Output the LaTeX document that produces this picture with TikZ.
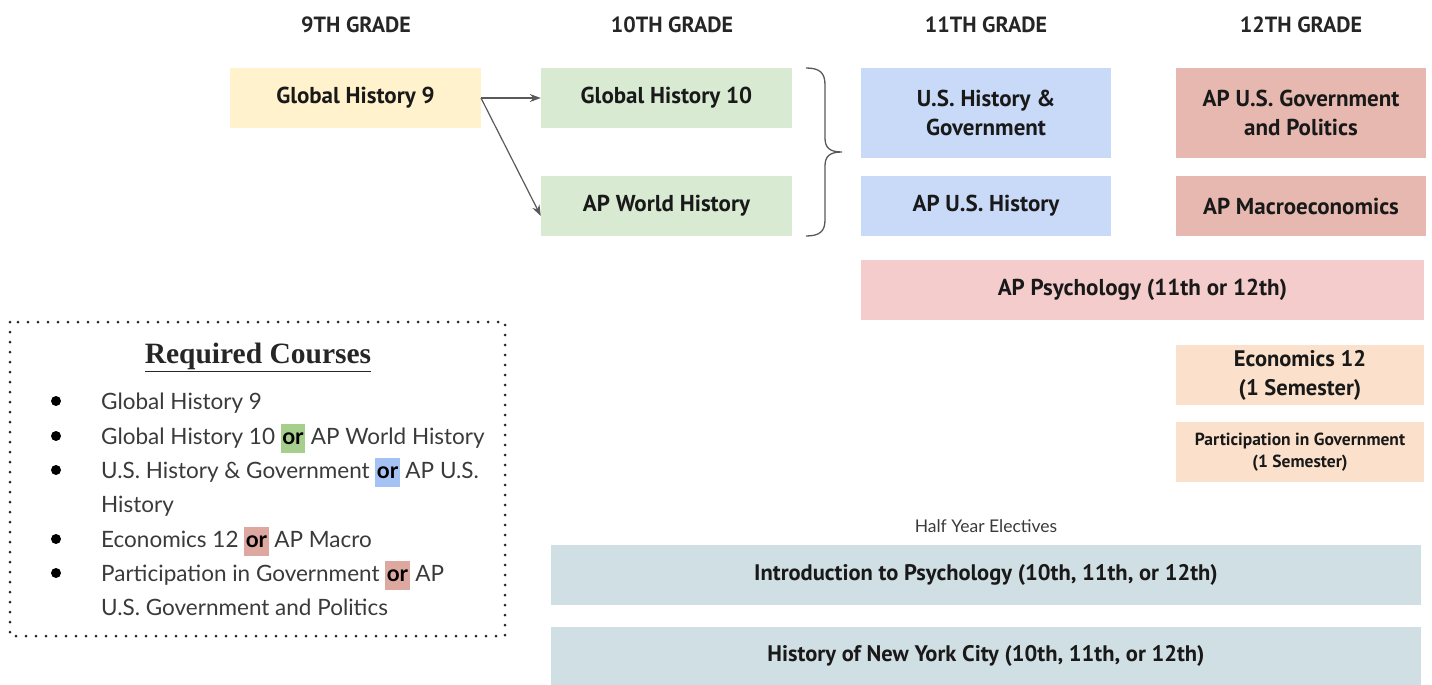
\documentclass[tikz,border=0pt]{standalone}
\usepackage{fontspec}
\setmainfont{PT Sans}
\newfontfamily\listfont{Lato}
\newfontfamily\headfont{Liberation Serif}
\usetikzlibrary{arrows.meta}
\definecolor{cyellow}{HTML}{FFF2CC}
\definecolor{cgreen}{HTML}{D9EAD3}
\definecolor{cblue}{HTML}{C9DAF8}
\definecolor{cred}{HTML}{E6B8AF}
\definecolor{cpink}{HTML}{F4CCCC}
\definecolor{cpeach}{HTML}{FBE1CB}
\definecolor{cgrey}{HTML}{D0DFE3}
\definecolor{hgreen}{HTML}{A6CF8E}
\definecolor{hblue}{HTML}{A4C2F4}
\definecolor{hred}{HTML}{DDA89F}
\definecolor{listtext}{HTML}{3A3A3A}
\definecolor{arrowgrey}{HTML}{595959}
\newcommand{\hl}[2]{{\setlength{\fboxsep}{1.5pt}\colorbox{#1}{\strut\color{black}#2}}}
\tikzset{
  course/.style={fill=#1, draw=none, inner sep=2pt, align=center, font=\fontsize{23}{29}\selectfont\bfseries, text=black!90},
  grade/.style={font=\fontsize{22}{26}\selectfont\bfseries, text=black!85},
  item/.style={anchor=base west, inner sep=0pt, font=\listfont\fontsize{22.5}{26}\selectfont, text=listtext},
  bul/.style={circle, fill=black, inner sep=0pt, minimum size=10pt},
  conn/.style={draw=arrowgrey, line width=1.2pt, -{Stealth[length=11pt,width=8pt]}},
}
\begin{document}
\begin{tikzpicture}[x=1pt,y=-1pt]
\useasboundingbox (0,0) rectangle (1432,685);
% grade headings
\node[grade] (g9) at (356,25) {9TH GRADE};
\node[grade] (g10) at (672,25) {10TH GRADE};
\node[grade] (g11) at (986,25) {11TH GRADE};
\node[grade] (g12) at (1301,25) {12TH GRADE};
% courses
\node[course=cyellow, minimum width=251pt, minimum height=60pt] (gh9) at (355.5,98) {Global History 9};
\node[course=cgreen, minimum width=251pt, minimum height=60pt] (gh10) at (666.5,98) {Global History 10};
\node[course=cgreen, minimum width=251pt, minimum height=60pt] (apw) at (666.5,206) {AP World History};
\node[course=cblue, minimum width=250pt, minimum height=90pt] (ush) at (986,113) {U.S. History \&\\Government};
\node[course=cblue, minimum width=250pt, minimum height=60pt] (apush) at (986,206) {AP U.S. History};
\node[course=cred, minimum width=250pt, minimum height=90pt] (apgov) at (1301,113) {AP U.S. Government\\and Politics};
\node[course=cred, minimum width=250pt, minimum height=60pt] (apmac) at (1301,206) {AP Macroeconomics};
\node[course=cpink, minimum width=563pt, minimum height=60pt] (appsy) at (1142.5,290) {AP Psychology (11th or 12th)};
\node[course=cpeach, minimum width=248pt, minimum height=60pt, font=\fontsize{22.5}{29}\selectfont\bfseries] (eco) at (1300,375) {Economics 12\\(1 Semester)};
\node[course=cpeach, minimum width=248pt, minimum height=60pt, font=\fontsize{17.5}{22}\selectfont\bfseries] (pig) at (1300,452) {Participation in Government\\(1 Semester)};
\node[font=\listfont\fontsize{17.5}{20}\selectfont, text=listtext] (hye) at (986,526) {Half Year Electives};
\node[course=cgrey, minimum width=870pt, minimum height=60pt, font=\fontsize{22.5}{29}\selectfont\bfseries] (intro) at (986,575) {Introduction to Psychology (10th, 11th, or 12th)};
\node[course=cgrey, minimum width=870pt, minimum height=58pt, font=\fontsize{22.5}{29}\selectfont\bfseries] (nyc) at (986,656) {History of New York City (10th, 11th, or 12th)};
% arrows
\coordinate (src) at (481,98);
\draw[conn] (src) -- (gh10.west);
\draw[conn] (src) -- (apw.west |- 0,216);
% brace
\draw[arrowgrey, line width=1.3pt] (806,68) .. controls (820,68) and (825,73) .. (825,85) -- (825,138) .. controls (825,148) and (830,152) .. (842,152) .. controls (830,152) and (825,156) .. (825,166) -- (825,220) .. controls (825,231) and (820,236) .. (806,236);
% required courses box
\draw[line width=3pt, dash pattern=on 0pt off 10pt, line cap=round, black!85] (10,322) rectangle (505,636);
\node[font=\headfont\fontsize{29.5}{32}\selectfont\bfseries, text=black!85] (req) at (258,357) {\underline{Required Courses}};
\node[bul] (b1) at (56,401) {};
\node[item] (i1) at (101,409) {Global History 9};
\node[bul] (b2) at (56,436) {};
\node[item] (i2) at (101,444) {Global History 10 \hl{hgreen}{\bfseries or} AP World History};
\node[bul] (b3) at (56,470) {};
\node[item] (i3) at (101,478) {U.S. History \& Government \hl{hblue}{\bfseries or} AP U.S.};
\node[item] (i3b) at (101,512) {History};
\node[bul] (b4) at (56,539) {};
\node[item] (i4) at (101,547) {Economics 12 \hl{hred}{\bfseries or} AP Macro};
\node[bul] (b5) at (56,573) {};
\node[item] (i5) at (101,581) {Participation in Government \hl{hred}{\bfseries or} AP};
\node[item] (i5b) at (101,615) {U.S. Government and Politics};
\end{tikzpicture}
\end{document}
